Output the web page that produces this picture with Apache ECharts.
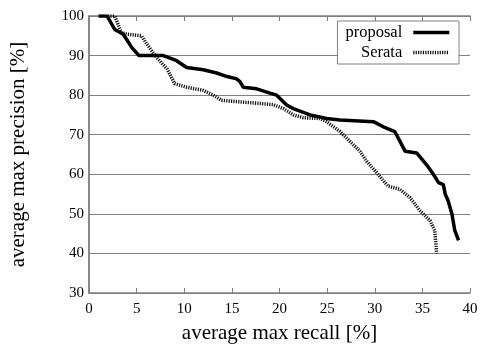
<!DOCTYPE html>
<html><head><meta charset="utf-8">
<script src="https://cdn.jsdelivr.net/npm/echarts@6/dist/echarts.min.js"></script>
<style>html,body{margin:0;padding:0;background:#fff}#c{width:481px;height:349px}</style>
</head><body><div id="c"></div>
<script>
const xTicks = [0,5,10,15,20,25,30,35,40];
const yTicks = [30,40,50,60,70,80,90,100];
const proposalRecall = [1.0,1.9,2.7,3.6,4.5,5.25,7.8,9.2,10.25,12,13.4,14.5,15.5,15.85,16.2,17.6,19,19.7,20.75,21.45,23.2,24.95,26.35,29.85,30.9,32.1,32.65,33.2,34.4,35.45,36.15,36.7,37.2,37.4,37.7,38.1,38.4,38.8];
const proposalPrecision = [100,100,96.6,95.4,92,90,90,88.7,87,86.4,85.6,84.7,84.1,83.4,82,81.6,80.5,80,77.5,76.6,75,74.1,73.7,73.3,72,70.8,68.3,65.8,65.4,62.4,60,57.9,57.4,55,53.3,50,45.8,43.3];
const serataRecall = [2.0,2.7,3.4,4.0,5.5,6.2,7.1,8.2,9.0,10.25,12,13.05,13.9,15.85,17.95,19.35,20.4,21.45,22.5,24.25,24.95,26.35,27.4,28.45,29.15,30.2,31.4,32.65,33.7,34.75,35.8,36.3,36.5];
const serataPrecision = [100,100,95.8,95.4,95,92.5,89.5,86.6,82.9,82,81.2,80,78.7,78.3,77.9,77.6,76.6,75,74.3,74.1,73.3,70.8,68.3,65.8,63.3,60.4,57,56.2,54.1,50.8,48.3,45.8,40];
const seriesNames = ['proposal','Serata'];

const font = '"Liberation Serif","DejaVu Serif",serif';
const axisGray = '#808080';
const chart = echarts.init(document.getElementById('c'));
chart.setOption({
  animation:false,
  backgroundColor:'#fff',
  grid:{left:89,right:11,top:16,bottom:53,containLabel:false},
  legend:{
    data:seriesNames, right:22, top:21, orient:'vertical', align:'right',
    itemWidth:36, itemHeight:10, itemGap:3,
    padding:[3,8,3,8],
    itemStyle:{opacity:0},
    lineStyle:{width:3.5},
    borderColor:axisGray, borderWidth:1, backgroundColor:'#fff', borderRadius:0,
    textStyle:{fontFamily:font,fontSize:16.5,color:'#000',padding:[0,6,0,0]}
  },
  xAxis:[{
    type:'value', min:0, max:40, interval:5,
    name:'average max recall [%]', nameLocation:'middle', nameGap:30,
    nameTextStyle:{fontFamily:font,fontSize:21,color:'#000'},
    axisLine:{show:true,lineStyle:{color:axisGray,width:1.5}},
    axisTick:{show:true,inside:true,length:5,lineStyle:{color:axisGray}},
    axisLabel:{fontFamily:font,fontSize:15,color:'#000',margin:9,formatter:v=>xTicks.includes(v)?String(v):''},
    splitLine:{show:false}
  },{
    type:'value', position:'top', min:0, max:40, interval:5,
    axisLine:{show:true,lineStyle:{color:axisGray,width:1.5}},
    axisTick:{show:true,inside:true,length:5,lineStyle:{color:axisGray}},
    axisLabel:{show:false}, splitLine:{show:false}
  }],
  yAxis:[{
    type:'value', min:30, max:100, interval:10,
    name:'average max precision [%]', nameLocation:'middle', nameGap:60,
    nameTextStyle:{fontFamily:font,fontSize:21,color:'#000'},
    axisLine:{show:true,lineStyle:{color:axisGray,width:1.5}},
    axisTick:{show:false},
    axisLabel:{fontFamily:font,fontSize:15,color:'#000',margin:5,formatter:v=>yTicks.includes(v)?String(v):''},
    splitLine:{show:true,lineStyle:{color:axisGray,width:1}}
  },{
    type:'value', position:'right', min:30, max:100, interval:10,
    axisLine:{show:true,lineStyle:{color:axisGray,width:1.5}},
    axisTick:{show:false}, axisLabel:{show:false}, splitLine:{show:false}
  }],
  series:[{
    name:seriesNames[0], type:'line', symbol:'none', xAxisIndex:0, yAxisIndex:0,
    data:proposalRecall.map((x,i)=>[x,proposalPrecision[i]]),
    lineStyle:{color:'#000',width:3.5,type:'solid'}, itemStyle:{color:'#000'}
  },{
    name:seriesNames[1], type:'line', symbol:'none', xAxisIndex:0, yAxisIndex:0,
    data:serataRecall.map((x,i)=>[x,serataPrecision[i]]),
    lineStyle:{color:'#111',width:3.5,type:[1.2,1.2]}, itemStyle:{color:'#111'}
  }]
});
</script></body></html>
